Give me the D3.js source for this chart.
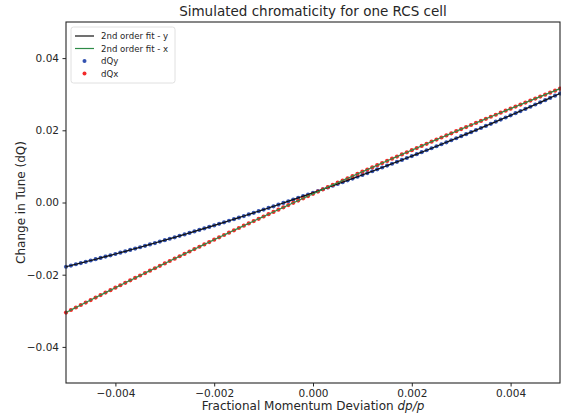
<!DOCTYPE html>
<html><head><meta charset="utf-8">
<script src="https://cdn.jsdelivr.net/npm/d3@7"></script>
<style>
html,body{margin:0;padding:0;background:#fff;}
svg{display:block;font-family:"DejaVu Sans",sans-serif;}
</style></head>
<body><svg id="c" width="561" height="415"></svg>
<script>
const dpp = [-0.005,-0.0049,-0.0048,-0.0047,-0.0046,-0.0045,-0.0044,-0.0043,-0.0042,-0.0041,
-0.004,-0.0039,-0.0038,-0.0037,-0.0036,-0.0035,-0.0034,-0.0033,-0.0032,-0.0031,
-0.003,-0.0029,-0.0028,-0.0027,-0.0026,-0.0025,-0.0024,-0.0023,-0.0022,-0.0021,
-0.002,-0.0019,-0.0018,-0.0017,-0.0016,-0.0015,-0.0014,-0.0013,-0.0012,-0.0011,
-0.001,-0.0009,-0.0008,-0.0007,-0.0006,-0.0005,-0.0004,-0.0003,-0.0002,-0.0001,
0,0.0001,0.0002,0.0003,0.0004,0.0005,0.0006,0.0007,0.0008,0.0009,
0.001,0.0011,0.0012,0.0013,0.0014,0.0015,0.0016,0.0017,0.0018,0.0019,
0.002,0.0021,0.0022,0.0023,0.0024,0.0025,0.0026,0.0027,0.0028,0.0029,
0.003,0.0031,0.0032,0.0033,0.0034,0.0035,0.0036,0.0037,0.0038,0.0039,
0.004,0.0041,0.0042,0.0043,0.0044,0.0045,0.0046,0.0047,0.0048,0.0049,0.005];

const dQy = [-0.01780,-0.01746,-0.01711,-0.01677,-0.01642,-0.01607,-0.01571,-0.01535,-0.01499,-0.01463,
-0.01426,-0.01389,-0.01352,-0.01314,-0.01277,-0.01239,-0.01200,-0.01162,-0.01123,-0.01083,
-0.01044,-0.01004,-0.00964,-0.00924,-0.00883,-0.00843,-0.00801,-0.00760,-0.00718,-0.00676,
-0.00634,-0.00591,-0.00549,-0.00506,-0.00462,-0.00419,-0.00375,-0.00330,-0.00286,-0.00241,
-0.00196,-0.00151,-0.00105,-0.00059,-0.00013,0.00034,0.00080,0.00127,0.00175,0.00222,
0.00270,0.00318,0.00367,0.00415,0.00464,0.00514,0.00563,0.00613,0.00663,0.00713,
0.00764,0.00815,0.00866,0.00918,0.00969,0.01022,0.01074,0.01126,0.01179,0.01233,
0.01286,0.01340,0.01394,0.01448,0.01503,0.01558,0.01613,0.01668,0.01724,0.01780,
0.01836,0.01893,0.01949,0.02006,0.02064,0.02122,0.02179,0.02238,0.02296,0.02355,
0.02414,0.02473,0.02533,0.02593,0.02653,0.02714,0.02774,0.02835,0.02897,0.02958,0.03020];

const dQx = [-0.03048,-0.02978,-0.02909,-0.02840,-0.02771,-0.02702,-0.02633,-0.02565,-0.02496,-0.02428,
-0.02360,-0.02292,-0.02224,-0.02157,-0.02089,-0.02022,-0.01955,-0.01888,-0.01821,-0.01754,
-0.01688,-0.01621,-0.01555,-0.01489,-0.01423,-0.01357,-0.01291,-0.01226,-0.01160,-0.01095,
-0.01030,-0.00965,-0.00900,-0.00836,-0.00771,-0.00707,-0.00643,-0.00579,-0.00515,-0.00451,
-0.00388,-0.00324,-0.00261,-0.00198,-0.00135,-0.00072,-0.00009,0.00053,0.00116,0.00178,
0.00240,0.00302,0.00364,0.00425,0.00487,0.00548,0.00609,0.00670,0.00731,0.00792,
0.00853,0.00913,0.00973,0.01033,0.01093,0.01153,0.01213,0.01272,0.01332,0.01391,
0.01450,0.01509,0.01568,0.01626,0.01685,0.01743,0.01801,0.01859,0.01917,0.01975,
0.02033,0.02090,0.02147,0.02204,0.02261,0.02318,0.02375,0.02431,0.02488,0.02544,
0.02600,0.02656,0.02712,0.02767,0.02823,0.02878,0.02933,0.02988,0.03043,0.03098,0.03153];

const xTicks = [-0.004,-0.002,0,0.002,0.004];
const yTicks = [-0.04,-0.02,0,0.02,0.04];
const legendLabels = ["2nd order fit - y","2nd order fit - x","dQy","dQx"];

const W = 561, H = 415;
const m = {left:66, right:1, top:22, bottom:32};
const svg = d3.select("#c");
const x = d3.scaleLinear().domain([-0.005,0.005]).range([m.left, W-m.right]);
const y = d3.scaleLinear().domain([-0.05,0.05]).range([H-m.bottom, m.top]);

const cBlue = "#3352b0", cRed = "#f22a2a", cGreen = "#2e8b47", cBlack = "#111";
const axisCol = "#262626";

const dataY = dpp.map((d,i)=>[d,dQy[i]]);
const dataX = dpp.map((d,i)=>[d,dQx[i]]);

const plot = svg.append("g");
plot.selectAll("circle.qy").data(dataY).enter().append("circle")
  .attr("cx",d=>x(d[0])).attr("cy",d=>y(d[1])).attr("r",2.1).attr("fill",cBlue);
plot.selectAll("circle.qx").data(dataX).enter().append("circle")
  .attr("cx",d=>x(d[0])).attr("cy",d=>y(d[1])).attr("r",2.1).attr("fill",cRed);

const line = d3.line().x(d=>x(d[0])).y(d=>y(d[1])).curve(d3.curveMonotoneX);
plot.append("path").datum(dataY).attr("d",line).attr("fill","none").attr("stroke",cBlack).attr("stroke-width",1.2);
plot.append("path").datum(dataX).attr("d",line).attr("fill","none").attr("stroke",cGreen).attr("stroke-width",1.2);

// axes
const xAxis = svg.append("g").attr("transform",`translate(0,${H-m.bottom})`)
  .call(d3.axisBottom(x).tickValues(xTicks).tickSizeOuter(0).tickSize(3.5).tickPadding(3.5)
    .tickFormat(d=>d3.format(".3f")(d).replace("-","\u2212")));
const yAxis = svg.append("g").attr("transform",`translate(${m.left},0)`)
  .call(d3.axisLeft(y).tickValues(yTicks).tickSizeOuter(0).tickSize(3.5).tickPadding(3.5)
    .tickFormat(d=>d3.format(".2f")(d).replace("-","\u2212")));
[xAxis,yAxis].forEach(a=>{
  a.select(".domain").remove();
  a.selectAll("line").attr("stroke",axisCol).attr("stroke-width",1);
  a.selectAll("text").attr("fill",axisCol).style("font-size","10.5px").style("font-family","DejaVu Sans");
});

// spines
svg.append("rect").attr("x",m.left).attr("y",m.top)
  .attr("width",W-m.right-m.left).attr("height",H-m.bottom-m.top)
  .attr("fill","none").attr("stroke",axisCol).attr("stroke-width",1.1);

// title & labels
svg.append("text").attr("x",(m.left+W-m.right)/2).attr("y",16).attr("text-anchor","middle")
  .style("font-size","13.5px").attr("fill",axisCol).text("Simulated chromaticity for one RCS cell");
const xl = svg.append("text").attr("x",(m.left+W-m.right)/2).attr("y",410).attr("text-anchor","middle")
  .style("font-size","12px").attr("fill",axisCol);
xl.append("tspan").text("Fractional Momentum Deviation ");
xl.append("tspan").style("font-style","italic").text("dp/p");
svg.append("text").attr("transform",`translate(25,${(m.top+H-m.bottom)/2}) rotate(-90)`)
  .attr("text-anchor","middle").style("font-size","12px").attr("fill",axisCol).text("Change in Tune (dQ)");

// legend
const lg = svg.append("g").attr("transform","translate(71,27)");
lg.append("rect").attr("x",0).attr("y",0).attr("width",104).attr("height",56).attr("rx",2.5)
  .attr("fill","#fff").attr("fill-opacity",0.8).attr("stroke","#d8d8d8").attr("stroke-width",0.8);
const rowY = [9,21.5,34,46.5];
legendLabels.forEach((lab,i)=>{
  const g = lg.append("g").attr("transform",`translate(0,${rowY[i]})`);
  if(i<2){
    g.append("line").attr("x1",4).attr("x2",23).attr("y1",0).attr("y2",0)
      .attr("stroke",i===0?cBlack:cGreen).attr("stroke-width",1.2);
  } else {
    g.append("circle").attr("cx",13.5).attr("cy",0).attr("r",2).attr("fill",i===2?cBlue:cRed);
  }
  g.append("text").attr("x",30).attr("y",3.3).style("font-size","8.6px").attr("fill",axisCol).text(lab);
});
</script></body></html>
